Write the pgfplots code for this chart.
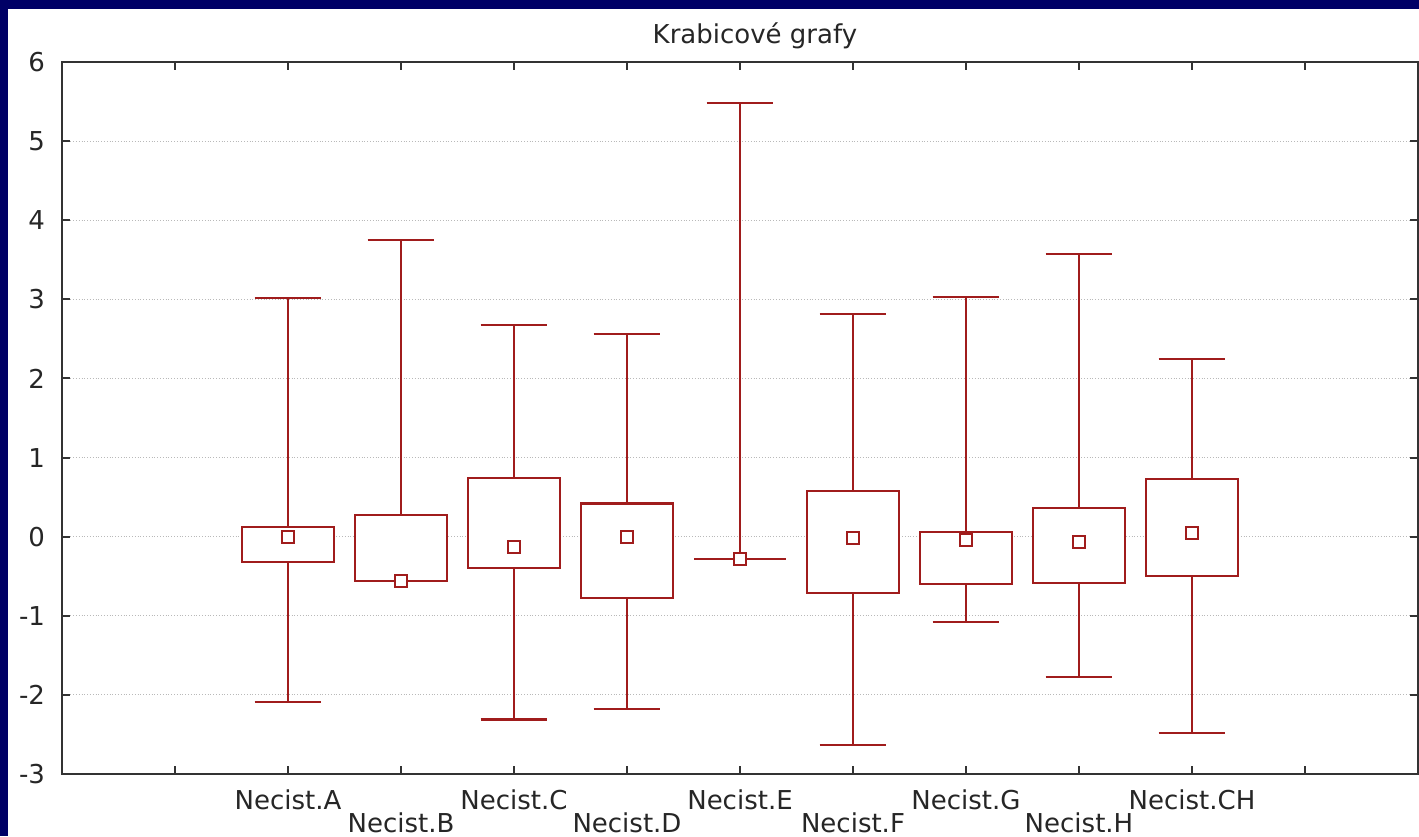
\documentclass[border=0pt]{standalone}
\usepackage{fontspec}
\setmainfont{DejaVu Sans}
\usepackage{pgfplots}
\pgfplotsset{compat=1.18}
\usepgfplotslibrary{statistics}
\definecolor{boxred}{RGB}{160,28,28}
\definecolor{navyframe}{RGB}{0,0,102}
\begin{document}
\begin{tikzpicture}
\path[use as bounding box] (-31pt,-31pt) rectangle (678.5pt,387pt);
\fill[navyframe] (-31pt,-31pt) rectangle (678.5pt,387pt);
\fill[white] (-27pt,-31pt) rectangle (678.5pt,382.5pt);
\begin{axis}[
  at={(0pt,0pt)}, anchor=south west,
  scale only axis, width=678pt, height=356pt,
  xmin=-1, xmax=11, ymin=-3, ymax=6,
  xtick={1,3,5,7,9},
  xticklabels={Necist.A,Necist.C,Necist.E,Necist.G,Necist.CH},
  extra x ticks={2,4,6,8},
  extra x tick labels={Necist.B,Necist.D,Necist.F,Necist.H},
  extra x tick style={xticklabel style={yshift=-11.5pt}, grid=none},
  minor xtick={0,10},
  ytick={-3,-2,-1,0,1,2,3,4,5,6},
  yticklabels={-3,-2,-1,0,1,2,3,4,5,6},
  xticklabel style={anchor=center, yshift=-13pt},
  yticklabel style={xshift=-5pt},
  tick label style={font=\fontsize{13}{15}\selectfont, text=black!85},
  major tick length=4pt, minor tick length=4pt,
  tick style={black!80, line width=1pt},
  minor tick style={black!80, line width=1pt},
  axis line style={black!80, line width=1pt},
  ymajorgrids, xmajorgrids=false,
  grid style={densely dotted, gray!55, line width=0.6pt},
  title={Krabicové grafy},
  title style={at={(0.511,1)}, anchor=center, yshift=7pt, font=\fontsize{13}{15}\selectfont, text=black!85},
  boxplot/draw direction=y,
  boxplot/draw/median/.code={},
]
\addplot[boxred, line width=1.1pt, fill=white, boxplot prepared={draw position=1, lower whisker=-2.09, lower quartile=-0.32, median=0.0, upper quartile=0.12, upper whisker=3.02, box extend=0.81, whisker extend=0.59}] coordinates {};
\addplot[boxred, line width=1.1pt, fill=white, boxplot prepared={draw position=2, lower whisker=-0.56, lower quartile=-0.56, median=-0.56, upper quartile=0.27, upper whisker=3.75, box extend=0.81, whisker extend=0.59}] coordinates {};
\addplot[boxred, line width=1.1pt, fill=white, boxplot prepared={draw position=3, lower whisker=-2.31, lower quartile=-0.40, median=-0.13, upper quartile=0.74, upper whisker=2.68, box extend=0.81, whisker extend=0.59}] coordinates {};
\addplot[boxred, line width=1.1pt, fill=white, boxplot prepared={draw position=4, lower whisker=-2.18, lower quartile=-0.78, median=0.0, upper quartile=0.42, upper whisker=2.56, box extend=0.81, whisker extend=0.59}] coordinates {};
\addplot[boxred, line width=1.1pt, fill=white, boxplot prepared={draw position=5, lower whisker=-0.28, lower quartile=-0.28, median=-0.28, upper quartile=-0.28, upper whisker=5.48, box extend=0.81, whisker extend=0.59}] coordinates {};
\addplot[boxred, line width=1.1pt, fill=white, boxplot prepared={draw position=6, lower whisker=-2.63, lower quartile=-0.71, median=-0.02, upper quartile=0.58, upper whisker=2.81, box extend=0.81, whisker extend=0.59}] coordinates {};
\addplot[boxred, line width=1.1pt, fill=white, boxplot prepared={draw position=7, lower whisker=-1.08, lower quartile=-0.60, median=-0.04, upper quartile=0.06, upper whisker=3.03, box extend=0.81, whisker extend=0.59}] coordinates {};
\addplot[boxred, line width=1.1pt, fill=white, boxplot prepared={draw position=8, lower whisker=-1.77, lower quartile=-0.59, median=-0.07, upper quartile=0.36, upper whisker=3.57, box extend=0.81, whisker extend=0.59}] coordinates {};
\addplot[boxred, line width=1.1pt, fill=white, boxplot prepared={draw position=9, lower whisker=-2.48, lower quartile=-0.50, median=0.05, upper quartile=0.73, upper whisker=2.25, box extend=0.81, whisker extend=0.59}] coordinates {};
\addplot[only marks, mark=square*, mark size=3pt, mark options={draw=boxred, fill=white, line width=1.1pt}] coordinates {
(1,0.0) (2,-0.56) (3,-0.13) (4,0.0) (5,-0.28) (6,-0.02) (7,-0.04) (8,-0.07) (9,0.05)
};
\end{axis}
\end{tikzpicture}
\end{document}
